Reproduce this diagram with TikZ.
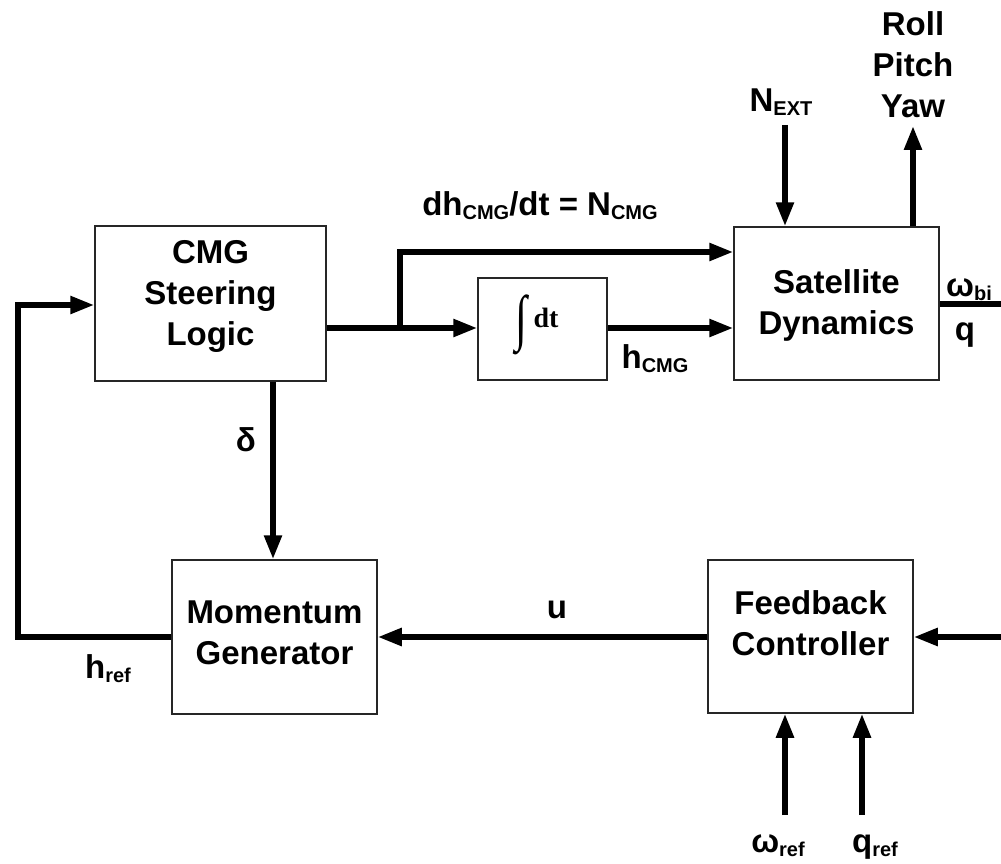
\documentclass[tikz,border=0pt]{standalone}
\usepackage{fontspec}
\usepackage{graphicx}
\setmainfont{Liberation Sans}
\newfontfamily\serifx{Liberation Serif}
\usetikzlibrary{arrows.meta}
\newcommand{\sbs}[1]{\raisebox{-4pt}{\fontsize{20}{20}\selectfont #1}}
\begin{document}
\begin{tikzpicture}[x=1pt,y=-1pt,
  box/.style={draw=black!85,line width=1.5pt,fill=white,inner sep=0pt},
  txt/.style={font=\bfseries\fontsize{33}{41}\selectfont,align=center,inner sep=0pt},
  wire/.style={line width=5.5pt},
  arr/.style={wire,-{Triangle[length=24pt,width=17pt]}}]
\useasboundingbox (0,0) rectangle (1001,864);
% boxes
\node[box,minimum width=231pt,minimum height=155pt] (cmg) at (210.5,303.5) {};
\node[box,minimum width=129pt,minimum height=102pt] (integ) at (542.5,329) {};
\node[box,minimum width=205pt,minimum height=153pt] (sat) at (836.5,303.5) {};
\node[box,minimum width=205pt,minimum height=154pt] (mom) at (274.5,637) {};
\node[box,minimum width=205pt,minimum height=153pt] (fb) at (810.5,636.5) {};
% box texts
\node[txt] (cmgt) at (210.5,296) {CMG\\Steering\\Logic};
\node[txt] (satt) at (836.5,305) {Satellite\\Dynamics};
\node[txt] (momt) at (274.5,633) {Momentum\\Generator};
\node[txt] (fbt) at (810.5,623) {Feedback\\Controller};
\node[inner sep=0pt] (intsign) at (521,325) {\scalebox{1.2}[1.7]{\serifx\fontsize{36}{36}\selectfont ∫}};
\node[inner sep=0pt,font=\serifx\bfseries\fontsize{28}{28}\selectfont] (dt) at (546,318) {dt};
% coordinates
\coordinate (split) at (400,328);
\coordinate (splitup) at (400,252);
\coordinate (next) at (785,125);
\coordinate (rpy) at (913,126);
\coordinate (satout) at (1001,304);
\coordinate (fbin) at (1001,637);
\coordinate (wref) at (785,815);
\coordinate (qref) at (862,815);
\coordinate (lft) at (18,637);
\coordinate (lftup) at (18,305);
% connectors
\draw[wire] (cmg.east |- split) -- (split);
\draw[arr] (split) -- (integ.west |- split);
\draw[arr] (split) -- (splitup) -- (sat.west |- splitup);
\draw[arr] (integ.east |- split) -- (sat.west |- split);
\draw[arr] (next) -- (next |- sat.north);
\draw[arr] (rpy |- sat.north) -- (rpy);
\draw[wire] (sat.east |- satout) -- (satout);
\draw[arr] (273,0 |- cmg.south) -- (273,0 |- mom.north);
\draw[arr] (fb.west |- mom.east) -- (mom.east);
\draw[arr] (fbin) -- (fb.east |- fbin);
\draw[arr] (mom.west) -- (lft) -- (lftup) -- (cmg.west |- lftup);
\draw[arr] (wref) -- (wref |- fb.south);
\draw[arr] (qref) -- (qref |- fb.south);
% labels
\node[txt,anchor=base] (ldh) at (540,215) {dh\sbs{CMG}/dt = N\sbs{CMG}};
\node[txt,anchor=base] (lhcmg) at (655,368) {h\sbs{CMG}};
\node[txt,anchor=base] (lnext) at (781,112) {N\sbs{EXT}};
\node[txt] (lrpy) at (913,65) {Roll\\Pitch\\Yaw};
\node[txt,anchor=base west] (lwbi) at (946,296) {ω\sbs{bi}};
\node[txt] (lq) at (965,335) {q};
\node[txt] (ldelta) at (246,440) {δ};
\node[txt] (lu) at (557,610) {u};
\node[txt,anchor=base] (lhref) at (108,678) {h\sbs{ref}};
\node[txt,anchor=base] (lwref) at (778,852) {ω\sbs{ref}};
\node[txt,anchor=base] (lqref) at (875,852) {q\sbs{ref}};
\end{tikzpicture}
\end{document}
